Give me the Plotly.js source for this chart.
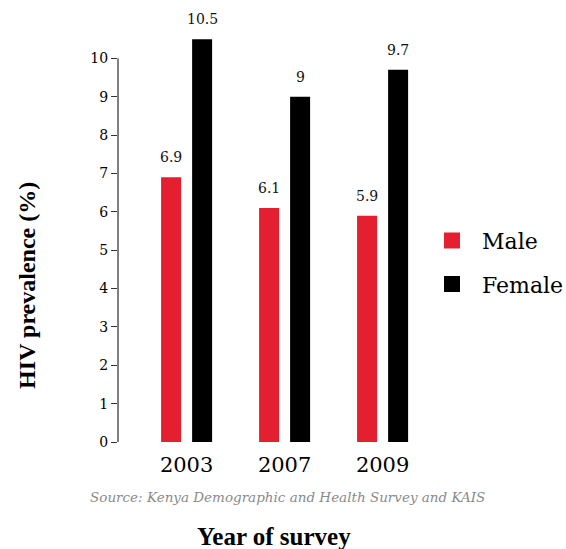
<!DOCTYPE html>
<html>
<head>
<meta charset="utf-8">
<script src="https://cdn.plot.ly/plotly-3.0.1.min.js"></script>
<style>html,body{margin:0;padding:0;background:#fff;}#chart{width:566px;height:549px;}</style>
</head>
<body>
<div id="chart"></div>
<script>
const years = ["2003", "2007", "2009"];
const male = [6.9, 6.1, 5.9];
const female = [10.5, 9, 9.7];
const seriesNames = ["Male", "Female"];
const yTicks = [0, 1, 2, 3, 4, 5, 6, 7, 8, 9, 10];
const sourceText = "Source: Kenya Demographic and Health Survey and KAIS";
const xTitle = "Year of survey";
const yTitle = "HIV prevalence (%)";

const RED = "#E41F2F";
const BLACK = "#000000";
const SERIF = "DejaVu Serif, serif";
const TSERIF = "Liberation Serif, serif";

const traces = [
  {type: "bar", name: seriesNames[0], x: years, y: male, marker: {color: RED}, showlegend: false, hoverinfo: "skip"},
  {type: "bar", name: seriesNames[1], x: years, y: female, marker: {color: BLACK}, showlegend: false, hoverinfo: "skip"},
  {type: "scatter", mode: "markers", name: seriesNames[0], legendgroup: "m", x: [null], y: [null], marker: {symbol: "square", size: 20, color: RED}},
  {type: "scatter", mode: "markers", name: seriesNames[1], legendgroup: "f", x: [null], y: [null], marker: {symbol: "square", size: 20, color: BLACK}}
];

const annotations = [];
[male, female].forEach((vals, si) => {
  vals.forEach((v, i) => {
    annotations.push({
      x: i, y: v, xref: "x", yref: "y",
      text: String(v), showarrow: false,
      xanchor: "center", yanchor: "bottom", yshift: 10,
      xshift: si === 0 ? -15.5 : 15.5,
      font: {family: SERIF, size: 14, color: "#111"}
    });
  });
});
annotations.push({
  text: sourceText, xref: "paper", yref: "paper", x: 0.578, y: -0.13,
  xanchor: "center", yanchor: "middle", showarrow: false,
  font: {family: SERIF, size: 13.5, color: "#8a8a8a", style: "italic"}
});
annotations.push({
  text: "<b>" + xTitle + "</b>", xref: "paper", yref: "paper", x: 0.53, y: -0.225,
  xanchor: "center", yanchor: "middle", showarrow: false,
  font: {family: TSERIF, size: 25, color: "#000"}
});
annotations.push({
  text: "<b>" + yTitle + "</b>", xref: "paper", yref: "paper", x: -0.31, y: 0.372,
  xanchor: "center", yanchor: "middle", showarrow: false, textangle: -90,
  font: {family: TSERIF, size: 24, color: "#000"}
});

const layout = {
  width: 566, height: 549,
  margin: {l: 118, r: 154, t: 20, b: 107},
  paper_bgcolor: "#fff", plot_bgcolor: "#fff",
  barmode: "group", bargap: 0.367, bargroupgap: 0.355,
  xaxis: {
    type: "category", range: [-0.7, 2.3], showgrid: false, zeroline: false,
    showline: false, ticks: "", ticklabelstandoff: 8,
    tickfont: {family: SERIF, size: 21, color: "#000"},
    fixedrange: true
  },
  yaxis: {
    range: [0, 11], tickvals: yTicks, ticktext: yTicks.map(String),
    showgrid: false, zeroline: false, showline: false,
    ticks: "outside", ticklen: 6, tickwidth: 1, tickcolor: "#333",
    tickfont: {family: SERIF, size: 14, color: "#000"}, fixedrange: true
  },
  shapes: [{
    type: "line", xref: "paper", yref: "y", x0: 0, x1: 0,
    y0: yTicks[0], y1: yTicks[yTicks.length - 1],
    line: {color: "#000", width: 1}
  }],
  legend: {
    xref: "container", x: 0.7456, y: 0.425, xanchor: "left", yanchor: "middle",
    font: {family: SERIF, size: 22, color: "#000"},
    itemsizing: "trace", itemwidth: 50, tracegroupgap: 12,
    bgcolor: "rgba(0,0,0,0)"
  },
  annotations: annotations,
  showlegend: true
};

Plotly.newPlot("chart", traces, layout, {displayModeBar: false, staticPlot: true});
</script>
</body>
</html>
